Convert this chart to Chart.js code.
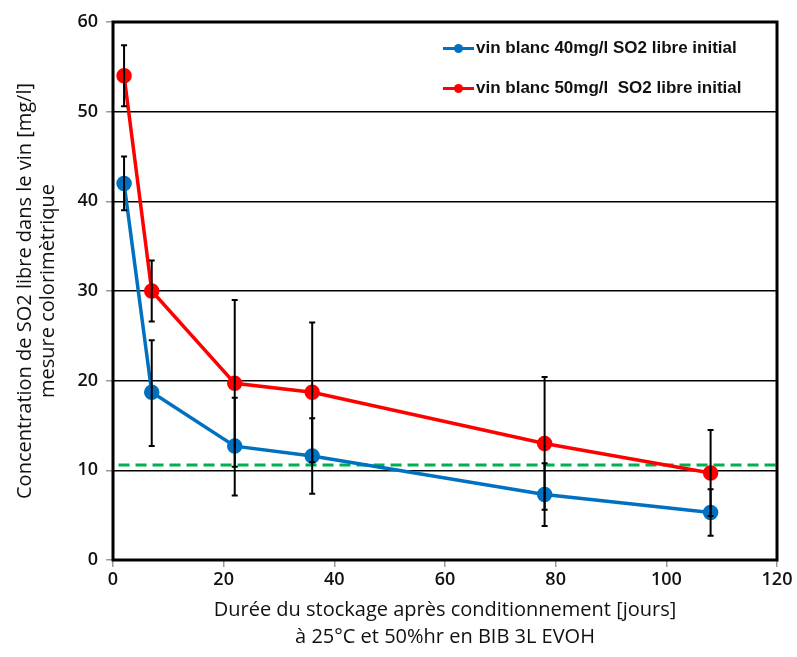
<!DOCTYPE html>
<html>
<head>
<meta charset="utf-8">
<script src="https://cdn.jsdelivr.net/npm/chart.js@4"></script>
<style>
    body { margin: 0; background: #fff; }
    .wrap { position: relative; width: 797px; height: 657px; }
    .legend { position: absolute; left: 443px; top: 36px; font-family: "Liberation Sans", sans-serif; font-weight: bold; font-size: 17px; color: #111; }
    .legend .row { position: relative; height: 40px; line-height: 24px; padding-left: 33px; white-space: pre; }
    .legend .line { position: absolute; left: 0; top: 11px; width: 31px; height: 3px; }
    .legend .dot { position: absolute; left: 11px; top: -3px; width: 9px; height: 9px; border-radius: 50%; }
</style>
</head>
<body>
<div class="wrap">
    <canvas id="graf"></canvas>
    <div class="legend" id="legend"></div>
</div>
<script>
const jours = [2, 7, 22, 36, 78, 108];

const blanc40 = [42, 18.7, 12.7, 11.6, 7.3, 5.3];
const blanc40Haut = [45, 24.5, 18.1, 15.8, 10.8, 7.9];
const blanc40Bas = [39, 12.7, 7.2, 7.4, 3.8, 2.7];

const blanc50 = [54, 30, 19.7, 18.7, 13, 9.7];
const blanc50Haut = [57.4, 33.4, 29, 26.5, 20.4, 14.5];
const blanc50Bas = [50.6, 26.6, 10.4, 10.9, 5.6, 4.9];

const seuilX = [1, 120];
const seuilY = [10.6, 10.6];

const xTicks = [0, 20, 40, 60, 80, 100, 120];
const yTicks = [0, 10, 20, 30, 40, 50, 60];

const labels = ["vin blanc 40mg/l SO2 libre initial", "vin blanc 50mg/l  SO2 libre initial"];
const couleurs = ["#0070C0", "#FF0000"];

const pts = (xs, ys) => xs.map((x, i) => ({ x, y: ys[i] }));

const police = "'Open Sans', sans-serif";

// barres d'erreur + cadre
const errorBars = {
    id: "errorBars",
    afterDatasetsDraw(chart) {
        const { ctx, scales: { x, y } } = chart;
        const series = [[blanc50Haut, blanc50Bas], [blanc40Haut, blanc40Bas]];
        ctx.save();
        ctx.strokeStyle = "#000";
        ctx.lineWidth = 2;
        series.forEach(([haut, bas]) => {
            jours.forEach((j, i) => {
                const px = x.getPixelForValue(j);
                const top = y.getPixelForValue(haut[i]);
                const bot = y.getPixelForValue(bas[i]);
                ctx.beginPath();
                ctx.moveTo(px, top); ctx.lineTo(px, bot);
                ctx.moveTo(px - 3, top); ctx.lineTo(px + 3, top);
                ctx.moveTo(px - 3, bot); ctx.lineTo(px + 3, bot);
                ctx.stroke();
            });
        });
        ctx.restore();
    },
    afterDraw(chart) {
        const { ctx, chartArea: a } = chart;
        ctx.save();
        ctx.strokeStyle = "#000";
        ctx.lineWidth = 3;
        ctx.strokeRect(a.left, a.top, a.right - a.left, a.bottom - a.top);
        ctx.restore();
    }
};

const ctx = document.getElementById("graf");
ctx.width = 797;
ctx.height = 657;

new Chart(ctx, {
    type: "scatter",
    data: {
        datasets: [
            {
                label: labels[0],
                data: pts(jours, blanc40),
                borderColor: couleurs[0],
                backgroundColor: couleurs[0],
                showLine: true,
                borderWidth: 3.5,
                pointRadius: 6,
                order: 2
            },
            {
                label: labels[1],
                data: pts(jours, blanc50),
                borderColor: couleurs[1],
                backgroundColor: couleurs[1],
                showLine: true,
                borderWidth: 3.5,
                pointRadius: 6,
                order: 1
            },
            {
                label: "seuil",
                data: pts(seuilX, seuilY),
                borderColor: "#00B050",
                showLine: true,
                borderWidth: 3,
                borderDash: [11, 6],
                pointRadius: 0,
                order: 3
            }
        ]
    },
    options: {
        responsive: false,
        animation: false,
        layout: { padding: { left: 0, right: 20, top: 22, bottom: 0 } },
        plugins: {
            legend: { display: false },
            tooltip: { enabled: false }
        },
        scales: {
            x: {
                type: "linear",
                min: 0,
                max: 120,
                afterBuildTicks: s => { s.ticks = xTicks.map(v => ({ value: v })); },
                afterFit: s => { s.height = 97; },
                grid: { drawOnChartArea: false, tickLength: 7, tickColor: "#999", lineWidth: 1.5 },
                border: { display: false },
                ticks: { color: "#111", padding: 2, font: { family: police, size: 18, weight: 600 } },
                title: {
                    display: true,
                    text: ["Durée du stockage après conditionnement [jours]", "à 25°C et 50%hr en BIB 3L EVOH"],
                    color: "#111",
                    padding: { top: 0, bottom: 6.5 },
                    font: { family: police, size: 20, lineHeight: 1.35 }
                }
            },
            y: {
                min: 0,
                max: 60,
                afterBuildTicks: s => { s.ticks = yTicks.map(v => ({ value: v })); },
                afterFit: s => { s.width = 113; },
                grid: {
                    color: c => (c.tick.value === 0 || c.tick.value === 60) ? "rgba(0,0,0,0)" : "#000",
                    tickColor: "#999",
                    tickLength: 7,
                    lineWidth: 1.5
                },
                border: { display: false },
                ticks: { color: "#111", padding: 8, font: { family: police, size: 18, weight: 600 } },
                title: {
                    display: true,
                    text: ["Concentration de SO2 libre dans le vin [mg/l]", "mesure colorimètrique"],
                    color: "#111",
                    padding: { bottom: 0, top: 13.5 },
                    font: { family: police, size: 20, lineHeight: 1.15 }
                }
            }
        }
    },
    plugins: [errorBars]
});

// légende
const legend = document.getElementById("legend");
labels.forEach((l, i) => {
    const row = document.createElement("div");
    row.className = "row";
    row.innerHTML = `<span class="line" style="background:${couleurs[i]}"><span class="dot" style="background:${couleurs[i]}"></span></span>`;
    row.appendChild(document.createTextNode(l));
    legend.appendChild(row);
});
</script>
</body>
</html>
